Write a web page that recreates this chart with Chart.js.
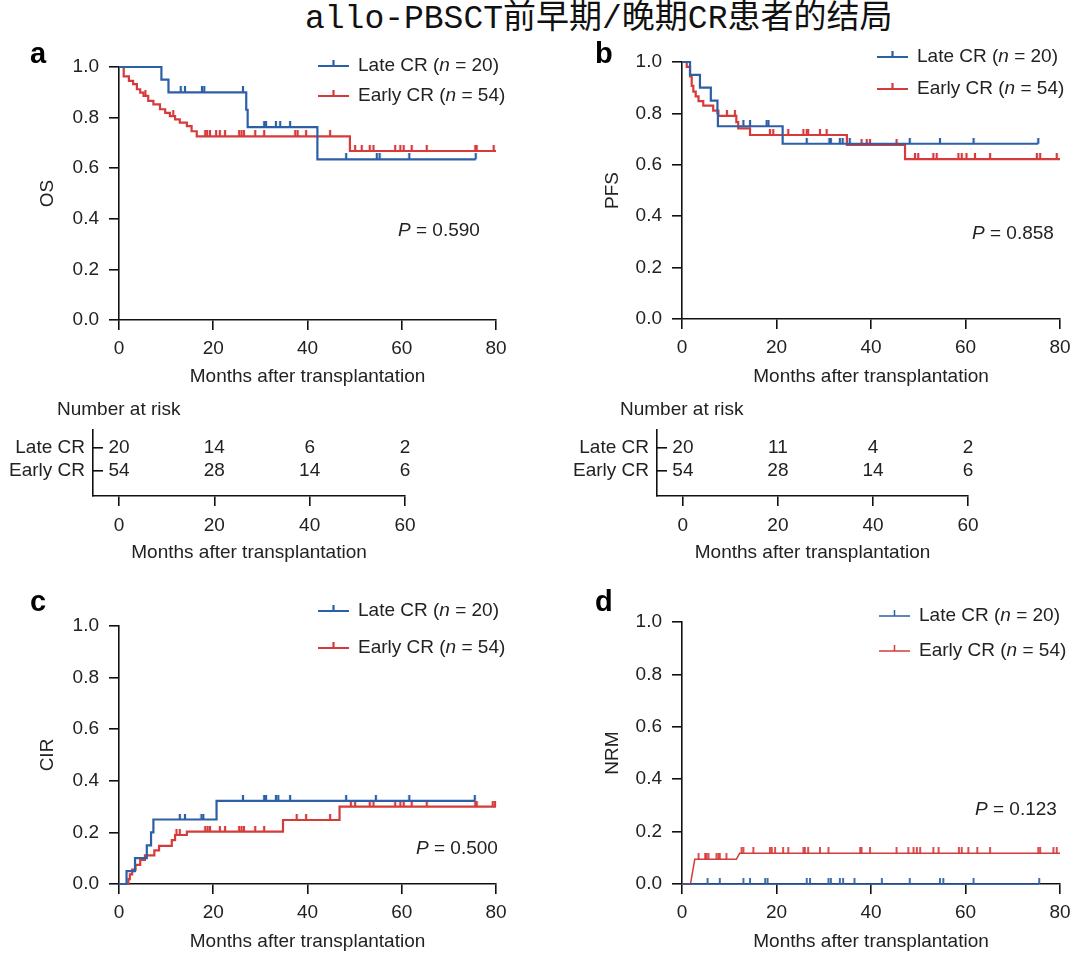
<!DOCTYPE html>
<html>
<head>
<meta charset="utf-8">
<script src="https://cdn.jsdelivr.net/npm/chart.js@4.4.1/dist/chart.umd.min.js"></script>
<style>
  body { margin: 0; background: #fff; width: 1080px; height: 954px; position: relative; overflow: hidden; }
  canvas { position: absolute; }
  #title { position: absolute; left: 305px; top: 0; height: 40px; line-height: 40px; white-space: nowrap;
           font-family: "Liberation Mono", "Noto Sans CJK SC", monospace; font-size: 33px; color: #111; }
</style>
</head>
<body>
<div id="title">allo-PBSCT前早期/晚期CR患者的结局</div>
<canvas id="chartA"></canvas>
<canvas id="chartB"></canvas>
<canvas id="riskA"></canvas>
<canvas id="riskB"></canvas>
<canvas id="chartC"></canvas>
<canvas id="chartD"></canvas>
<script>
// ---- data ----
const groupNames = ["Late CR", "Early CR"];
const groupCounts = [20, 54];
const monthTicks = [0, 20, 40, 60, 80];
const probTicks = [0, 0.2, 0.4, 0.6, 0.8, 1.0];
const pValues = [0.590, 0.858, 0.500, 0.123];

// a: overall survival
const osLateTime = [0, 9.0, 10.5, 27.0, 27.3, 42.1, 75.7];
const osLateSurv = [1, 0.95, 0.90, 0.831, 0.762, 0.635, 0.635];
const osLateCensor = [13.1, 14.0, 17.6, 18.1, 26.3, 30.8, 31.2, 33.3, 34.2, 36.3, 48.2, 54.7, 55.3, 61.6, 75.7];
const osEarlyTime = [0, 1.0, 2.1, 3.0, 3.8, 4.5, 5.2, 6.2, 7.3, 8.7, 9.8, 10.8, 11.9, 12.9, 14.4, 15.4, 16.5, 49.0, 80];
const osEarlySurv = [1, 0.963, 0.945, 0.932, 0.912, 0.899, 0.886, 0.866, 0.852, 0.833, 0.819, 0.806, 0.793, 0.780, 0.766, 0.746, 0.726, 0.668, 0.668];
const osEarlyCensor = [5.6, 11.5, 18.3, 18.7, 19.3, 20.6, 21.4, 22.5, 25.5, 26.0, 26.5, 28.9, 30.8, 37.4, 37.9, 39.7, 44.8, 50.1, 51.5, 53.2, 54.0, 58.6, 59.7, 60.4, 62.1, 65.3, 75.6, 75.9, 79.5];

// b: progression-free survival
const pfsLateTime = [0, 1.7, 3.8, 6.1, 7.5, 7.6, 21.3, 75.4];
const pfsLateSurv = [1, 0.95, 0.90, 0.85, 0.80, 0.75, 0.682, 0.682];
const pfsLateCensor = [13.0, 14.4, 17.9, 18.3, 26.4, 31.2, 31.5, 33.4, 34.0, 35.5, 48.2, 54.6, 61.7, 75.4];
const pfsEarlyTime = [0, 1.0, 1.7, 2.05, 2.4, 2.9, 3.5, 4.5, 6.6, 7.7, 11.5, 11.9, 14.4, 34.9, 47.2, 80];
const pfsEarlySurv = [1, 0.981, 0.944, 0.907, 0.885, 0.866, 0.848, 0.830, 0.811, 0.790, 0.766, 0.742, 0.716, 0.677, 0.622, 0.622];
const pfsEarlyCensor = [9.5, 11.2, 18.6, 19.3, 22.5, 25.7, 26.4, 26.7, 29.2, 30.6, 38.0, 39.1, 39.8, 45.4, 49.3, 50.0, 53.2, 53.9, 58.5, 59.2, 60.2, 62.0, 65.2, 75.1, 75.8, 79.3];

// c: cumulative incidence of relapse
const cirLateTime = [0, 1.6, 3.4, 5.9, 6.8, 7.3, 20.7, 75.5];
const cirLateInc = [0, 0.05, 0.10, 0.15, 0.20, 0.25, 0.322, 0.322];
const cirLateCensor = [12.9, 14.0, 17.5, 17.9, 26.3, 30.8, 31.2, 33.3, 33.8, 36.3, 48.2, 54.5, 61.6, 75.5];
const cirEarlyTime = [0, 2.0, 2.3, 2.8, 3.5, 4.5, 5.5, 7.5, 8.5, 11.2, 11.9, 14.4, 34.8, 46.8, 80];
const cirEarlyInc = [0, 0.019, 0.037, 0.056, 0.074, 0.093, 0.111, 0.130, 0.148, 0.170, 0.190, 0.203, 0.248, 0.300, 0.300];
const cirEarlyCensor = [12.2, 12.9, 18.3, 18.8, 19.3, 21.4, 22.5, 25.5, 26.0, 26.5, 28.9, 30.8, 37.7, 39.7, 44.8, 49.2, 50.1, 53.2, 54.0, 58.6, 59.7, 60.4, 62.1, 65.3, 75.6, 75.9, 79.3, 79.8];

// d: non-relapse mortality
const nrmLateTime = [0, 75.6];
const nrmLateInc = [0, 0];
const nrmLateCensor = [5.4, 8.0, 13.0, 14.4, 17.6, 18.1, 26.4, 27.1, 31.0, 31.5, 33.4, 34.1, 36.5, 42.3, 48.2, 54.6, 55.3, 61.7, 75.6];
const nrmEarlyTime = [0, 1.8, 2.7, 11.5, 12.2, 80];
const nrmEarlyInc = [0, 0, 0.094, 0.094, 0.117, 0.117];
const nrmEarlyCensor = [3.5, 4.9, 5.2, 5.6, 7.3, 7.7, 8.0, 9.4, 12.6, 13.0, 15.1, 18.6, 19.0, 19.7, 21.4, 22.5, 25.7, 26.0, 26.7, 29.2, 31.0, 37.7, 38.0, 39.8, 45.4, 47.9, 49.0, 49.7, 50.4, 53.2, 54.3, 58.6, 59.2, 60.6, 62.5, 65.2, 75.4, 75.8, 78.6, 79.3];

// number at risk tables
const riskTimes = [0, 20, 40, 60];
const osRiskLate = [20, 14, 6, 2];
const osRiskEarly = [54, 28, 14, 6];
const pfsRiskLate = [20, 11, 4, 2];
const pfsRiskEarly = [54, 28, 14, 6];
const riskRows = [2, 1]; // y level of Late / Early row

// ---- styling ----
const BLUE = "#2c5fa6";
const RED = "#d63b3b";
const INK = "#222";
const AXIS = "#111";
const FONT = '"Liberation Sans", Arial, Helvetica, sans-serif';
const FS = 19;
const LH = FS * 1.2;
Chart.defaults.font.family = FONT;
Chart.defaults.font.size = FS;
Chart.defaults.color = INK;

function stepValue(times, vals, t) {
  let v = vals[0];
  for (let i = 0; i < times.length; i++) if (times[i] <= t) v = vals[i];
  return v;
}

// small upward tick used for censored cases
function tickMark(color, len, lw) {
  const c = document.createElement("canvas");
  c.width = 4;
  c.height = len * 2;
  const g = c.getContext("2d");
  g.strokeStyle = color;
  g.lineWidth = lw;
  g.beginPath();
  g.moveTo(2, 0);
  g.lineTo(2, len);
  g.stroke();
  return c;
}

function curveSet(times, vals, color, lw, stepped) {
  return {
    data: times.map((t, i) => ({ x: t, y: vals[i] })),
    showLine: true, stepped: stepped, borderColor: color, borderWidth: lw,
    pointRadius: 0, clip: false,
  };
}

function censorSet(times, vals, cens, color, lw) {
  return {
    data: cens.map((t) => ({ x: t, y: stepValue(times, vals, t) })),
    showLine: false, pointStyle: tickMark(color, 6, lw), pointRadius: 4, clip: false,
  };
}

function drawParts(ctx, x, y, parts) {
  ctx.textBaseline = "middle";
  ctx.textAlign = "left";
  ctx.fillStyle = INK;
  parts.forEach((p) => {
    ctx.font = (p.i ? "italic " : "") + FS + "px " + FONT;
    ctx.fillText(p.t, x, y);
    x += ctx.measureText(p.t).width;
  });
}

const annotate = {
  id: "annotate",
  afterDraw(chart, args, o) {
    const ctx = chart.ctx;
    ctx.save();
    ctx.translate(-o.box.x, -o.box.y);
    if (o.letter) {
      ctx.font = "bold 29px " + FONT;
      ctx.fillStyle = "#000";
      ctx.textBaseline = "middle";
      ctx.fillText(o.letter.text, o.letter.x, o.letter.y);
    }
    if (o.heading) drawParts(ctx, o.heading.x, o.heading.y, [{ t: o.heading.text }]);
    (o.legend || []).forEach((it) => {
      ctx.strokeStyle = it.color;
      ctx.lineWidth = it.lw;
      ctx.beginPath();
      ctx.moveTo(it.x, it.y);
      ctx.lineTo(it.x + 31, it.y);
      ctx.moveTo(it.x + 15.5, it.y);
      ctx.lineTo(it.x + 15.5, it.y - 6);
      ctx.stroke();
      drawParts(ctx, it.x + 40, it.y, [
        { t: groupNames[it.g] + " (" }, { t: "n", i: true }, { t: " = " + groupCounts[it.g] + ")" },
      ]);
    });
    if (o.p) drawParts(ctx, o.p.x, o.p.y, [{ t: "P", i: true }, { t: " = " + o.p.value.toFixed(3) }]);
    ctx.restore();
  },
};

const riskNumbers = {
  id: "riskNumbers",
  afterDraw(chart, args, o) {
    if (!o.rows) return;
    const { ctx, scales: { x, y } } = chart;
    ctx.save();
    ctx.font = FS + "px " + FONT;
    ctx.fillStyle = INK;
    ctx.textAlign = "center";
    ctx.textBaseline = "middle";
    o.rows.forEach((row, r) =>
      row.forEach((n, i) => ctx.fillText(String(n), x.getPixelForValue(riskTimes[i]), y.getPixelForValue(riskRows[r])))
    );
    ctx.restore();
  },
};

function place(id, box) {
  const cv = document.getElementById(id);
  cv.width = box.w;
  cv.height = box.h;
  cv.style.left = box.x + "px";
  cv.style.top = box.y + "px";
  return cv;
}

// box: canvas on the page; area: plot area on the page
function axisChart(id, box, area, cfg) {
  const yW = 90;
  const xH = box.y + box.h - area.b;
  const axisGrid = { drawOnChartArea: false, tickLength: 10, color: AXIS, lineWidth: 1.6 };
  return new Chart(place(id, box), {
    type: "scatter",
    data: { datasets: cfg.datasets },
    options: {
      responsive: false, animation: false, devicePixelRatio: 1,
      layout: { padding: { left: area.l - box.x - yW, top: area.t - box.y, right: box.x + box.w - area.r, bottom: 0 } },
      plugins: {
        legend: { display: false }, tooltip: { enabled: false },
        annotate: Object.assign({ box: box }, cfg.notes),
        riskNumbers: { rows: cfg.rows },
      },
      scales: {
        x: {
          type: "linear", min: cfg.xMin, max: cfg.xMax,
          afterBuildTicks: (s) => { s.ticks = cfg.xTicks.map((v) => ({ value: v })); },
          afterFit: (s) => { s.height = xH; s.paddingLeft = 0; s.paddingRight = 0; },
          border: { color: AXIS, width: 1.6 },
          grid: axisGrid,
          ticks: { padding: cfg.xTickPad, color: INK },
          title: {
            display: true, text: "Months after transplantation", color: INK,
            padding: { top: 0, bottom: box.h - LH / 2 - (cfg.xTitleY - box.y) },
          },
        },
        y: {
          type: "linear", min: cfg.yMin, max: cfg.yMax,
          afterBuildTicks: (s) => { s.ticks = cfg.yTicks.map((v) => ({ value: v })); },
          afterFit: (s) => { s.width = yW; s.paddingTop = 0; s.paddingBottom = 0; },
          border: { color: AXIS, width: 1.6 },
          grid: Object.assign({}, axisGrid, { tickLength: cfg.yTickLen }),
          ticks: { padding: cfg.yTickPad, color: INK, callback: cfg.yLabel },
          title: {
            display: !!cfg.yTitle, text: cfg.yTitle, color: INK,
            padding: { top: cfg.yTitleX - area.l + yW - LH / 2, bottom: 0 },
          },
        },
      },
    },
    plugins: [annotate, riskNumbers],
  });
}

function kmPanel(id, box, area, c) {
  const lw = c.lw;
  axisChart(id, box, area, {
    datasets: [
      curveSet(c.late[0], c.late[1], BLUE, lw, c.stepped),
      curveSet(c.early[0], c.early[1], RED, lw, c.stepped),
      censorSet(c.late[0], c.late[1], c.late[2], BLUE, Math.max(lw, 1.8)),
      censorSet(c.early[0], c.early[1], c.early[2], RED, Math.max(lw, 1.8)),
    ],
    xMin: 0, xMax: 80, xTicks: monthTicks, xTickPad: 7, xTitleY: c.xTitleY,
    yMin: 0, yMax: 1, yTicks: probTicks, yTickPad: 10, yTickLen: 10,
    yLabel: (v) => v.toFixed(1), yTitle: c.yTitle, yTitleX: c.yTitleX,
    notes: {
      letter: c.letter,
      legend: [
        { g: 0, color: BLUE, lw: lw, x: c.legX, y: c.legY[0] },
        { g: 1, color: RED, lw: lw, x: c.legX, y: c.legY[1] },
      ],
      p: c.p,
    },
  });
}

function riskPanel(id, box, area, late, early, heading) {
  axisChart(id, box, area, {
    datasets: [],
    rows: [late, early],
    xMin: -5.45, xMax: 60, xTicks: riskTimes, xTickPad: 8, xTitleY: 553,
    yMin: -0.09, yMax: 2.78, yTicks: riskRows, yTickPad: 18, yTickLen: -10,
    yLabel: (v) => groupNames[riskRows.indexOf(v)],
    yTitle: "", yTitleX: 0,
    notes: { heading: heading },
  });
}

kmPanel("chartA", { x: 0, y: 40, w: 545, h: 355 }, { l: 119, r: 496, t: 67, b: 320 }, {
  late: [osLateTime, osLateSurv, osLateCensor], early: [osEarlyTime, osEarlySurv, osEarlyCensor],
  lw: 2.2, stepped: true, xTitleY: 377, yTitle: "OS", yTitleX: 48,
  letter: { text: "a", x: 30, y: 55 }, legX: 318, legY: [66, 96],
  p: { x: 398, y: 231, value: pValues[0] },
});

kmPanel("chartB", { x: 560, y: 40, w: 520, h: 355 }, { l: 682, r: 1060, t: 62, b: 319 }, {
  late: [pfsLateTime, pfsLateSurv, pfsLateCensor], early: [pfsEarlyTime, pfsEarlySurv, pfsEarlyCensor],
  lw: 2.2, stepped: true, xTitleY: 377, yTitle: "PFS", yTitleX: 613,
  letter: { text: "b", x: 595, y: 55 }, legX: 877, legY: [57, 89],
  p: { x: 972, y: 234, value: pValues[1] },
});

riskPanel("riskA", { x: 0, y: 395, w: 545, h: 175 }, { l: 93, r: 405, t: 430, b: 496 },
  osRiskLate, osRiskEarly, { text: "Number at risk", x: 57, y: 410 });

riskPanel("riskB", { x: 560, y: 395, w: 520, h: 175 }, { l: 657, r: 968, t: 430, b: 496 },
  pfsRiskLate, pfsRiskEarly, { text: "Number at risk", x: 620, y: 410 });

kmPanel("chartC", { x: 0, y: 585, w: 545, h: 369 }, { l: 119, r: 496, t: 626, b: 884 }, {
  late: [cirLateTime, cirLateInc, cirLateCensor], early: [cirEarlyTime, cirEarlyInc, cirEarlyCensor],
  lw: 2.2, stepped: true, xTitleY: 942, yTitle: "CIR", yTitleX: 48,
  letter: { text: "c", x: 30, y: 603 }, legX: 318, legY: [611, 648],
  p: { x: 416, y: 849, value: pValues[2] },
});

kmPanel("chartD", { x: 560, y: 585, w: 520, h: 369 }, { l: 682, r: 1060, t: 622, b: 884 }, {
  late: [nrmLateTime, nrmLateInc, nrmLateCensor], early: [nrmEarlyTime, nrmEarlyInc, nrmEarlyCensor],
  lw: 1.5, stepped: false, xTitleY: 942, yTitle: "NRM", yTitleX: 613,
  letter: { text: "d", x: 595, y: 603 }, legX: 879, legY: [616, 651],
  p: { x: 975, y: 810, value: pValues[3] },
});
</script>
</body>
</html>
